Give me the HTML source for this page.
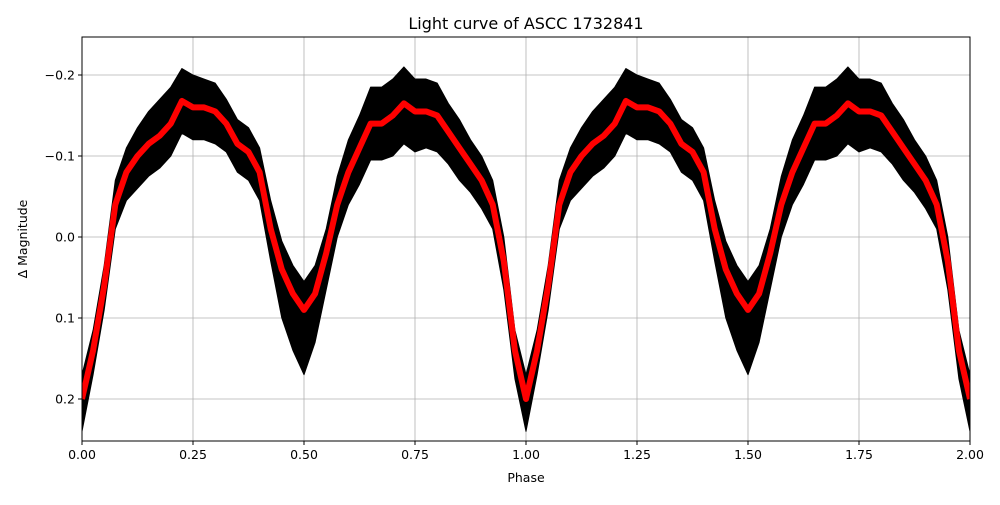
<!DOCTYPE html>
<html><head><meta charset="utf-8"><style>
body{margin:0;background:#fff;width:1000px;height:500px;overflow:hidden}
svg{font-family:"DejaVu Sans","Liberation Sans",sans-serif}
</style></head><body>
<svg id="chart" width="1000" height="500" viewBox="0 0 1000 500"></svg>
<script>
// phase grid (0..1, repeated for 1..2)
const phases=[0,0.025,0.05,0.075,0.1,0.125,0.15,0.175,0.2,0.225,0.25,0.275,0.3,0.325,0.35,0.375,0.4,0.425,0.45,0.475,0.5,0.525,0.55,0.575,0.6,0.625,0.65,0.675,0.7,0.725,0.75,0.775,0.8,0.825,0.85,0.875,0.9,0.925,0.95,0.975,1.0];
const model=[0.20,0.14,0.06,-0.04,-0.08,-0.10,-0.115,-0.125,-0.14,-0.168,-0.16,-0.16,-0.155,-0.14,-0.115,-0.105,-0.08,-0.01,0.04,0.07,0.09,0.07,0.02,-0.04,-0.08,-0.11,-0.14,-0.14,-0.15,-0.165,-0.155,-0.155,-0.15,-0.13,-0.11,-0.09,-0.07,-0.04,0.03,0.14,0.20];
const spreadUp=[0.03,0.025,0.025,0.03,0.03,0.035,0.04,0.045,0.045,0.04,0.04,0.035,0.035,0.03,0.03,0.03,0.03,0.035,0.035,0.035,0.035,0.035,0.03,0.035,0.04,0.04,0.045,0.045,0.045,0.045,0.04,0.04,0.04,0.035,0.035,0.03,0.03,0.03,0.03,0.025,0.03];
const spreadDown=[0.04,0.03,0.03,0.03,0.035,0.04,0.04,0.04,0.04,0.04,0.04,0.04,0.04,0.035,0.035,0.035,0.035,0.04,0.06,0.07,0.08,0.06,0.045,0.04,0.04,0.045,0.045,0.045,0.05,0.05,0.05,0.045,0.045,0.04,0.04,0.035,0.035,0.03,0.035,0.035,0.04];
const xTicks=[0,0.25,0.5,0.75,1.0,1.25,1.5,1.75,2.0];
const xTickLabels=["0.00","0.25","0.50","0.75","1.00","1.25","1.50","1.75","2.00"];
const yTicks=[-0.2,-0.1,0,0.1,0.2];
const yTickLabels=["\u22120.2","\u22120.1","0.0","0.1","0.2"];

const L=82,R=970,T=37,B=441;
const x=p=>L+(p/2)*(R-L);
const y=m=>237+m*810;
const svg=document.getElementById('chart');
const NS='http://www.w3.org/2000/svg';
function mk(tag,attrs,parent){const e=document.createElementNS(NS,tag);for(const k in attrs)e.setAttribute(k,attrs[k]);(parent||svg).appendChild(e);return e;}

const clip=mk('clipPath',{id:'pc'});mk('rect',{x:L,y:T,width:R-L,height:B-T},clip);

xTicks.forEach(t=>{const g=mk('line',{x1:x(t),x2:x(t),y1:T,y2:B,stroke:'#b0b0b0','stroke-width':0.8});

});
yTicks.forEach(t=>{const g=mk('line',{x1:L,x2:R,y1:y(t),y2:y(t),stroke:'#b0b0b0','stroke-width':0.8});

});

const plot=mk('g',{'clip-path':'url(#pc)'});


let up=[],dn=[],red=[];
for(let c=0;c<2;c++){phases.forEach((p,i)=>{if(c===1&&i===0)return;const X=x(p+c);
up.push(X+','+y(model[i]-spreadUp[i]));dn.push(X+','+y(model[i]+spreadDown[i]));red.push(X+','+y(model[i]));});}
const band=mk('polygon',{points:up.concat(dn.reverse()).join(' '),fill:'#000',stroke:'#000','stroke-width':1,'stroke-linejoin':'round'},plot);


const line=mk('polyline',{points:red.join(' '),fill:'none',stroke:'#ff0000','stroke-width':6,'stroke-linejoin':'round'},plot);



const fr=mk('rect',{x:L,y:T,width:R-L,height:B-T,fill:'none',stroke:'#000','stroke-width':1});



xTicks.forEach((t,i)=>{mk('line',{x1:x(t),x2:x(t),y1:B,y2:B+4,stroke:'#000'});
const tx=mk('text',{x:x(t),y:B+18,'text-anchor':'middle','font-size':12.5});tx.textContent=xTickLabels[i];

});
yTicks.forEach((t,i)=>{mk('line',{x1:L-4,x2:L,y1:y(t),y2:y(t),stroke:'#000'});
const tx=mk('text',{x:L-7,y:y(t)+4.5,'text-anchor':'end','font-size':12.5});tx.textContent=yTickLabels[i];

});
</script>
<svg style="position:absolute;left:0;top:0" width="1000" height="500">
<text x="526" y="29" text-anchor="middle" font-size="16" font-family="DejaVu Sans, Liberation Sans, sans-serif">Light curve of ASCC 1732841</text>
<text x="526" y="482" text-anchor="middle" font-size="12.5" font-family="DejaVu Sans, Liberation Sans, sans-serif">Phase</text>
<text x="27" y="239" text-anchor="middle" font-size="12.5" transform="rotate(-90 27 239)" font-family="DejaVu Sans, Liberation Sans, sans-serif">Δ Magnitude</text>
</svg>
</body></html>
